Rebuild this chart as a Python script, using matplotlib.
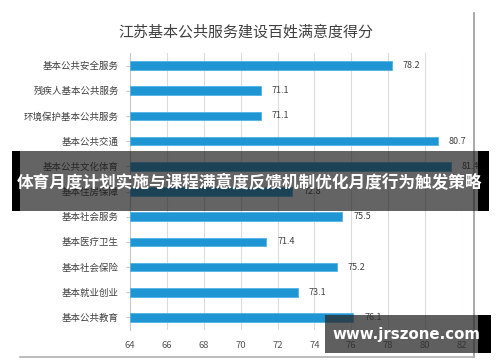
import matplotlib.pyplot as plt
from matplotlib.patches import Rectangle
from matplotlib.lines import Line2D

plt.rcParams['font.family'] = ['Noto Sans CJK SC', 'DejaVu Sans']

title = "江苏基本公共服务建设百姓满意度得分"
categories = ["基本公共安全服务", "残疾人基本公共服务", "环境保护基本公共服务", "基本公共交通",
              "基本公共文化体育", "基本住房保障", "基本社会服务", "基本医疗卫生",
              "基本社会保险", "基本就业创业", "基本公共教育"]
scores = [78.2, 71.1, 71.1, 80.7, 81.4, 72.8, 75.5, 71.4, 75.2, 73.1, 76.1]
xticks = [64, 66, 68, 70, 72, 74, 76, 78, 80, 82]
banner_text = "体育月度计划实施与课程满意度反馈机制优化月度行为触发策略"
watermark = "www.jrszone.com"

W, H = 500, 362
fig = plt.figure(figsize=(5, 3.62), dpi=100)
fig.patch.set_facecolor('white')

def fx(px): return px / W
def fy(py): return 1 - py / H

# outer image frame (right and bottom edges)
fig.add_artist(Line2D([fx(474), fx(474)], [fy(13), fy(357)], color='#9a9a9a', lw=1.2))
fig.add_artist(Line2D([fx(20), fx(474)], [fy(357), fy(357)], color='#b0b0b0', lw=1.2))

ax = fig.add_axes([fx(130), fy(330), fx(462) - fx(130), (330 - 53) / H])
ypos = list(range(len(categories)))
ax.barh(ypos, [s - 64 for s in scores], left=64, height=0.34, color='#1f96d3',
        edgecolor='#4fb3e6', linewidth=0.6, zorder=3)
for y, s in zip(ypos, scores):
    ax.text(s + 0.6, y, f"{s}", va='center', ha='left', fontsize=6.5, color='#404040')

ax.set_xlim(64, 82)
ax.set_ylim(10.5, -0.5)
ax.set_xticks(xticks)
ax.set_xticklabels([str(t) for t in xticks], fontsize=6.8, color='#555555')
ax.set_yticks(ypos)
ax.set_yticklabels(categories, fontsize=6.8, color='#404040')
ax.grid(axis='x', color='#dcdcdc', lw=0.8, zorder=0)
for s in ['top', 'right', 'bottom']:
    ax.spines[s].set_visible(False)
ax.spines['left'].set_color('#c8c8c8')
ax.tick_params(axis='y', length=3, color='#c8c8c8', pad=5)
ax.tick_params(axis='x', length=0, pad=8)

fig.text(fx(246), fy(32), title, ha='center', va='center', fontsize=10.8, color='#404040')

# overlay banner
fig.add_artist(Rectangle((fx(12), fy(211)), fx(489) - fx(12), (211 - 151) / H,
                         facecolor='#1a1a1a', alpha=0.68, edgecolor='none', zorder=10))
fig.add_artist(Rectangle((fx(12), fy(211)), fx(20) - fx(12), (211 - 151) / H,
                         facecolor='black', edgecolor='none', zorder=11))
fig.add_artist(Rectangle((fx(478), fy(211)), fx(489) - fx(478), (211 - 151) / H,
                         facecolor='black', edgecolor='none', zorder=11))
fig.text(fx(250), fy(183), banner_text, ha='center', va='center', fontsize=12.0,
         fontweight='bold', color='white', zorder=12)

# watermark box
fig.add_artist(Rectangle((fx(325), fy(353)), fx(491) - fx(325), (353 - 315) / H,
                         facecolor='#2a2a2a', alpha=0.75, edgecolor='none', zorder=10))
fig.add_artist(Rectangle((fx(478), fy(353)), fx(491) - fx(478), (353 - 315) / H,
                         facecolor='black', edgecolor='none', zorder=11))
fig.text(fx(406), fy(335), watermark, ha='center', va='center', fontsize=10.8,
         fontweight='bold', color='white', family='DejaVu Sans', zorder=12)

fig.savefig('out.png', dpi=100)
